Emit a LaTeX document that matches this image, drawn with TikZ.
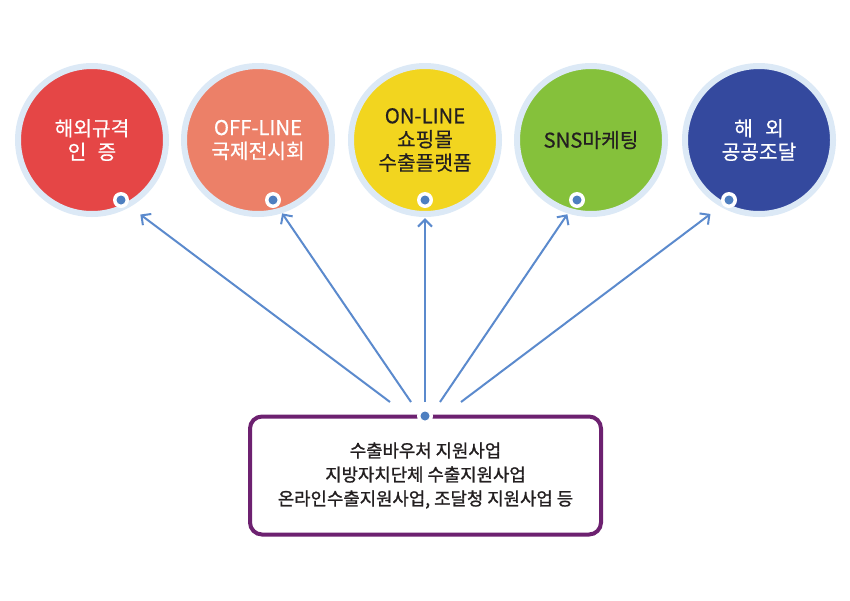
\documentclass[tikz,border=0pt]{standalone}
\usepackage{fontspec}
\setmainfont{Noto Sans CJK KR}
\newfontfamily\fieldfont{Noto Sans CJK KR}[FakeBold=0.5]
\newfontfamily\boxfont{Noto Sans CJK KR}[FakeBold=1.2]
\usetikzlibrary{arrows.meta}

\definecolor{ringblue}{HTML}{DCE9F6}
\definecolor{certred}{HTML}{E54646}
\definecolor{fairsalmon}{HTML}{EC8068}
\definecolor{shopyellow}{HTML}{F2D51F}
\definecolor{snsgreen}{HTML}{85C13B}
\definecolor{procblue}{HTML}{34499E}
\definecolor{dotblue}{HTML}{4E7FC0}
\definecolor{arrowblue}{HTML}{5B8ACD}
\definecolor{boxpurple}{HTML}{6D2170}
\definecolor{darktext}{HTML}{231F20}

\tikzset{
  field/.style={circle,draw=ringblue,line width=6,minimum size=148,
    inner sep=0,align=center,font=\fieldfont\fontsize{20.3}{23.5}\selectfont},
  pin/.style={circle,fill=white,inner sep=0,minimum size=16,
    path picture={\fill[dotblue] (path picture bounding box.center) circle (4.5);}},
  link/.style={draw=arrowblue,line width=2,-{Straight Barb[length=7,width=14]}},
  supportbox/.style={draw=boxpurple,line width=4,rounded corners=12,
    minimum width=351,minimum height=118,align=center,
    font=\boxfont\fontsize{17.8}{24}\selectfont,text=darktext}
}

\begin{document}
\begin{tikzpicture}[x=1pt,y=-1pt]

\useasboundingbox (0,0) rectangle (850,600);

\node[field,fill=certred,text=white] (cert) at (92,140)
{해외규격\\인\hspace{0.55em}증};

\node[field,fill=fairsalmon,text=white] (fair) at (258,140)
{OFF-LINE\\국제전시회};

\node[field,fill=shopyellow,text=darktext] (shop) at (425,140)
{ON-LINE\\쇼핑몰\\수출플랫폼};

\node[field,fill=snsgreen,text=darktext] (sns) at (591,140)
{SNS마케팅};

\node[field,fill=procblue,text=white] (proc) at (759,140)
{해\hspace{0.6em}외\\공공조달};

\node[pin] (certpin) at (121,200) {};
\node[pin] (fairpin) at (273,200) {};
\node[pin] (shoppin) at (425,200) {};
\node[pin] (snspin) at (577,200) {};
\node[pin] (procpin) at (729,200) {};

\node[supportbox] (support) at (425.5,475.5)
{수출바우처 지원사업\\지방자치단체 수출지원사업\\온라인수출지원사업, 조달청 지원사업 등};

\node[pin] (supportpin) at (425,416) {};

\coordinate (from1) at (390,402);
\coordinate (from2) at (411,402);
\coordinate (from3) at (425,402);
\coordinate (from4) at (440,402);
\coordinate (from5) at (461,402);

\draw[link,shorten >=16] (from1) -- (certpin);
\draw[link,shorten >=8] (from2) -- (fairpin);
\draw[link,shorten >=10] (from3) -- (shoppin);
\draw[link,shorten >=9] (from4) -- (snspin);
\draw[link,shorten >=15] (from5) -- (procpin);

\end{tikzpicture}
\end{document}
